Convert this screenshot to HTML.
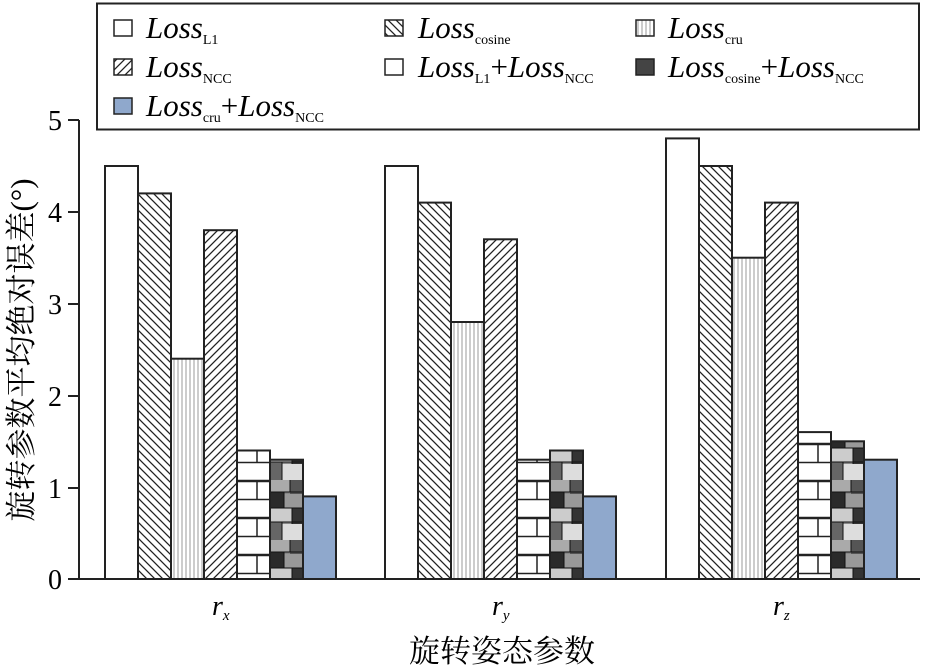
<!DOCTYPE html>
<html><head><meta charset="utf-8"><style>
html,body{margin:0;padding:0;background:#fff}
svg{display:block}
.l{font-family:"Liberation Serif",serif;font-style:italic;font-size:31px}
.s{font-family:"Liberation Serif",serif;font-style:normal;font-size:14px}
.t{font-family:"Liberation Serif",serif;font-size:28px}
.c{font-family:"Liberation Serif","Noto Serif CJK SC",serif;font-size:31px}
</style></head><body>
<svg width="925" height="667" viewBox="0 0 925 667" xmlns="http://www.w3.org/2000/svg">
<defs>
<pattern id="bs" width="8" height="8" patternUnits="userSpaceOnUse"><rect width="8" height="8" fill="#fff"/><path d="M-2,-2 L10,10 M-2,6 L2,10 M6,-2 L10,2" stroke="#222" stroke-width="1.3"/></pattern>
<pattern id="fs" width="8" height="8" patternUnits="userSpaceOnUse"><rect width="8" height="8" fill="#fff"/><path d="M-2,10 L10,-2 M-2,2 L2,-2 M6,10 L10,6" stroke="#222" stroke-width="1.3"/></pattern>
<pattern id="vl" width="4" height="10" patternUnits="userSpaceOnUse"><rect width="4" height="10" fill="#fff"/><path d="M2,0 V10" stroke="#999" stroke-width="1"/></pattern>
<pattern id="br1" x="6" y="0" width="33" height="37" patternUnits="userSpaceOnUse"><rect width="33" height="37" fill="#fff"/><path d="M0,0.5 H33 M0,18.5 H33 M20,0 V18 M0,36.5H33" stroke="#222" stroke-width="1.5" fill="none"/></pattern>
<pattern id="br2" x="22" y="0" width="33" height="37" patternUnits="userSpaceOnUse"><rect width="33" height="37" fill="#fff"/><path d="M0,0.5 H33 M0,18.5 H33 M20,0 V18 M0,36.5H33" stroke="#222" stroke-width="1.5" fill="none"/></pattern>
<g id="stt">
<rect width="33" height="60" fill="#888"/>
<rect x="0" y="0" width="20" height="12" fill="#aaa"/><rect x="20" y="0" width="13" height="14" fill="#555"/>
<rect x="0" y="12" width="14" height="16" fill="#2a2a2a"/><rect x="14" y="14" width="19" height="14" fill="#999"/>
<rect x="0" y="28" width="22" height="14" fill="#ccc"/><rect x="22" y="28" width="11" height="16" fill="#333"/>
<rect x="0" y="42" width="12" height="18" fill="#666"/><rect x="12" y="44" width="21" height="16" fill="#ddd"/>
<path d="M0,12 H33 M0,28H33 M0,42H33 M14,12V28 M22,28V44 M12,42V60 M20,0V12" stroke="#111" stroke-width="1" fill="none"/>
</g>
<pattern id="st1" x="6" width="33" height="60" patternUnits="userSpaceOnUse"><use href="#stt"/></pattern>
<pattern id="st2" x="22" width="33" height="60" patternUnits="userSpaceOnUse"><use href="#stt"/></pattern>
</defs>
<!-- legend -->
<rect x="97" y="3.5" width="822" height="126" fill="#fff" stroke="#222" stroke-width="2"/>
<g stroke="#222" stroke-width="1.5">
<rect x="114" y="20" width="18" height="16" fill="#fff"/>
<rect x="114" y="59" width="18" height="16" fill="url(#fs)"/>
<rect x="114" y="98" width="18" height="16" fill="#8fa8cc"/>
<rect x="385" y="20" width="18" height="16" fill="url(#bs)"/>
<rect x="385" y="59" width="18" height="16" fill="#fff"/>
<rect x="636" y="20" width="18" height="16" fill="url(#vl)"/>
<rect x="636" y="59" width="18" height="16" fill="#444"/>
</g>
<text class="l" x="146" y="38">Loss<tspan class="s" dy="6">L1</tspan></text>
<text class="l" x="146" y="77">Loss<tspan class="s" dy="6">NCC</tspan></text>
<text class="l" x="146" y="116">Loss<tspan class="s" dy="6">cru</tspan><tspan dy="-6" style="font-style:normal">+</tspan>Loss<tspan class="s" dy="6">NCC</tspan></text>
<text class="l" x="418" y="38">Loss<tspan class="s" dy="6">cosine</tspan></text>
<text class="l" x="418" y="77">Loss<tspan class="s" dy="6">L1</tspan><tspan dy="-6" style="font-style:normal">+</tspan>Loss<tspan class="s" dy="6">NCC</tspan></text>
<text class="l" x="668" y="38">Loss<tspan class="s" dy="6">cru</tspan></text>
<text class="l" x="668" y="77">Loss<tspan class="s" dy="6">cosine</tspan><tspan dy="-6" style="font-style:normal">+</tspan>Loss<tspan class="s" dy="6">NCC</tspan></text>
<!-- axes -->
<g stroke="#222" stroke-width="2">
<line x1="79" y1="120" x2="79" y2="580"/>
<line x1="68" y1="579" x2="920" y2="579"/>
<line x1="68" y1="120" x2="79" y2="120"/>
<line x1="68" y1="212" x2="79" y2="212"/>
<line x1="68" y1="304" x2="79" y2="304"/>
<line x1="68" y1="396" x2="79" y2="396"/>
<line x1="68" y1="488" x2="79" y2="488"/>
</g>
<g class="t" text-anchor="end">
<text x="62" y="130">5</text><text x="62" y="222">4</text><text x="62" y="314">3</text><text x="62" y="406">2</text><text x="62" y="498">1</text><text x="62" y="589">0</text>
</g>
<g stroke="#222" stroke-width="2">
<rect x="105" y="166" width="33" height="413" fill="#fff"/>
<rect x="138" y="193.4" width="33" height="385.6" fill="url(#bs)"/>
<rect x="171" y="358.7" width="33" height="220.3" fill="url(#vl)"/>
<rect x="204" y="230.2" width="33" height="348.8" fill="url(#fs)"/>
<rect x="237" y="450.5" width="33" height="128.5" fill="url(#br1)"/>
<rect x="270" y="459.7" width="33" height="119.3" fill="url(#st1)"/>
<rect x="303" y="496.4" width="33" height="82.6" fill="#8fa8cc"/>

<rect x="385" y="166" width="33" height="413" fill="#fff"/>
<rect x="418" y="202.6" width="33" height="376.4" fill="url(#bs)"/>
<rect x="451" y="322" width="33" height="257" fill="url(#vl)"/>
<rect x="484" y="239.3" width="33" height="339.7" fill="url(#fs)"/>
<rect x="517" y="459.7" width="33" height="119.3" fill="url(#br2)"/>
<rect x="550" y="450.5" width="33" height="128.5" fill="url(#st2)"/>
<rect x="583" y="496.4" width="33" height="82.6" fill="#8fa8cc"/>

<rect x="666" y="138.4" width="33" height="440.6" fill="#fff"/>
<rect x="699" y="166" width="33" height="413" fill="url(#bs)"/>
<rect x="732" y="257.7" width="33" height="321.3" fill="url(#vl)"/>
<rect x="765" y="202.6" width="33" height="376.4" fill="url(#fs)"/>
<rect x="798" y="432.1" width="33" height="146.9" fill="url(#br1)"/>
<rect x="831" y="441.3" width="33" height="137.7" fill="url(#st1)"/>
<rect x="864" y="459.7" width="33" height="119.3" fill="#8fa8cc"/>
</g>
<g class="t" font-style="italic">
<text x="212" y="615">r<tspan font-size="15" dy="5">x</tspan></text>
<text x="492" y="615">r<tspan font-size="15" dy="5">y</tspan></text>
<text x="773" y="615">r<tspan font-size="15" dy="5">z</tspan></text>
</g>
<text class="c" x="502" y="662" text-anchor="middle">旋转姿态参数</text>
<text class="c" transform="translate(32,350) rotate(-90)" text-anchor="middle">旋转参数平均绝对误差(°)</text>
</svg>
</body></html>
